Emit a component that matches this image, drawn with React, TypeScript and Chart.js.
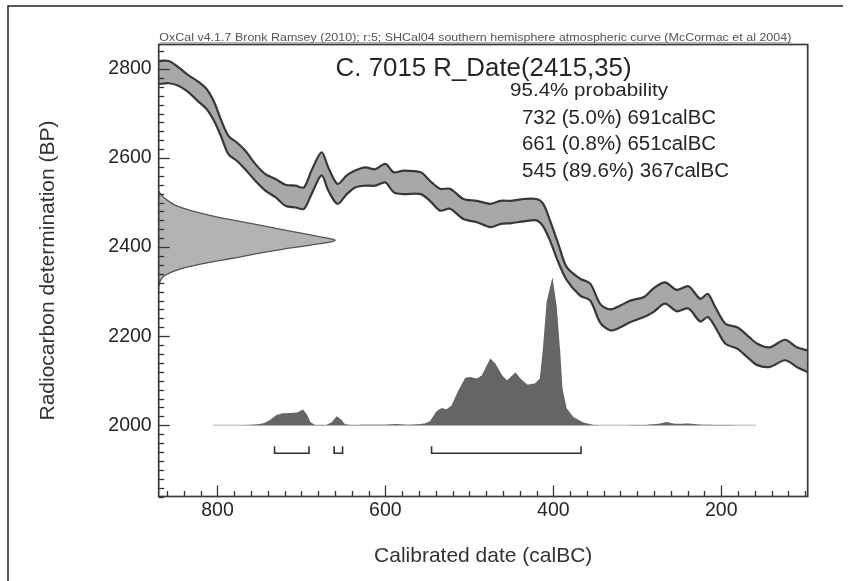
import React, { useEffect, useRef } from "react";
import { Chart, registerables } from "chart.js";

Chart.register(...registerables);

const FONT = '"Liberation Sans", Arial, Helvetica, sans-serif';

// ---- axes ----
const X_MIN = 97;
const X_MAX = 870;
const Y_MIN = 1840;
const Y_MAX = 2855;
const xTickLabels = [800, 600, 400, 200];
const yTickLabels = [2000, 2200, 2400, 2600, 2800];
const MINOR_STEP = 20;

// ---- calibration curve (SHCal04 band, BP) ----
const curveYears = [870, 858, 846, 834, 824, 813, 804, 796, 787, 777, 767, 755, 743, 731, 719, 707, 697, 688, 676, 668, 657, 646, 636, 624, 612, 600, 590, 578, 558, 547, 535, 523, 507, 491, 475, 463, 450, 435, 420, 412, 404, 394, 384, 368, 356, 344, 332, 320, 308, 292, 281, 267, 253, 239, 225, 216, 207, 195, 181, 169, 157, 142, 124, 110, 97];
const curveUpper = [2818, 2818, 2803, 2785, 2773, 2755, 2726, 2687, 2650, 2635, 2617, 2587, 2564, 2553, 2540, 2538, 2534, 2572, 2613, 2579, 2542, 2561, 2572, 2579, 2575, 2587, 2568, 2572, 2568, 2549, 2531, 2531, 2508, 2504, 2497, 2504, 2504, 2508, 2508, 2497, 2460, 2407, 2355, 2329, 2318, 2272, 2260, 2269, 2280, 2288, 2307, 2321, 2304, 2312, 2284, 2295, 2265, 2228, 2220, 2202, 2183, 2175, 2192, 2175, 2168];
const curveLower = [2766, 2768, 2762, 2747, 2729, 2710, 2683, 2650, 2609, 2594, 2575, 2549, 2527, 2512, 2493, 2489, 2486, 2519, 2561, 2527, 2497, 2519, 2534, 2538, 2538, 2545, 2523, 2519, 2519, 2504, 2482, 2486, 2463, 2456, 2445, 2452, 2454, 2458, 2460, 2446, 2415, 2366, 2326, 2291, 2280, 2230, 2213, 2220, 2232, 2243, 2254, 2273, 2256, 2262, 2233, 2243, 2220, 2183, 2172, 2153, 2135, 2131, 2146, 2131, 2119];

// ---- radiocarbon date R_Date(2415,35): relative probability by BP ----
const rDateBP = [2312, 2325, 2335, 2345, 2355, 2365, 2375, 2385, 2395, 2405, 2415, 2425, 2435, 2445, 2455, 2465, 2475, 2485, 2495, 2505, 2515, 2525];
const rDateProb = [0, 0.01, 0.03, 0.08, 0.16, 0.28, 0.42, 0.55, 0.7, 0.87, 1, 0.89, 0.76, 0.63, 0.5, 0.36, 0.25, 0.16, 0.09, 0.05, 0.02, 0];
const R_DATE_SPAN = 210; // calendar years covered by the peak

// ---- calibrated (posterior) distribution: relative probability by year ----
const postYears = [805, 770, 755, 745, 738, 730, 722, 712, 704, 698, 693, 689, 684, 670, 664, 658, 653, 648, 640, 600, 588, 575, 560, 552, 547, 539, 533, 527, 521, 513, 505, 499, 491, 485, 475, 469, 461, 455, 445, 439, 431, 422, 416, 412, 408, 401, 396, 392, 389, 384, 376, 364, 352, 340, 290, 275, 265, 255, 245, 238, 228, 210, 159];
const postProb = [0, 0, 0.005, 0.014, 0.034, 0.068, 0.081, 0.083, 0.088, 0.106, 0.068, 0.02, 0.002, 0.002, 0.02, 0.061, 0.041, 0.007, 0.002, 0.003, 0.008, 0.003, 0.007, 0.014, 0.027, 0.095, 0.117, 0.108, 0.135, 0.236, 0.32, 0.326, 0.316, 0.338, 0.451, 0.417, 0.338, 0.304, 0.356, 0.316, 0.275, 0.282, 0.316, 0.541, 0.831, 1, 0.811, 0.52, 0.25, 0.115, 0.056, 0.018, 0.002, 0, 0.002, 0.01, 0.022, 0.01, 0.01, 0.011, 0.005, 0.002, 0];
const POST_BASE = 2000;
const POST_SCALE = 332;

// ---- 95.4% ranges ----
const rangeFrom = [732, 661, 545];
const rangeTo = [691, 651, 367];
const rangePct = [5.0, 0.8, 89.6];
const BRACKET_TOP = 1953;
const BRACKET_BOT = 1937;

// ---- texts ----
const HEADER = "OxCal v4.1.7 Bronk Ramsey (2010); r:5; SHCal04 southern hemisphere atmospheric curve (McCormac et al 2004)";
const TITLE = "C. 7015 R_Date(2415,35)";
const PROB_LABEL = "95.4% probability";
const X_TITLE = "Calibrated date (calBC)";
const Y_TITLE = "Radiocarbon determination (BP)";

function drawText(
  ctx: CanvasRenderingContext2D,
  text: string,
  x: number,
  y: number,
  size: number,
  opts: { width?: number; sx?: number; color?: string; align?: "left" | "center" } = {}
) {
  ctx.save();
  ctx.font = `${size}px ${FONT}`;
  ctx.fillStyle = opts.color || "#262626";
  ctx.textBaseline = "alphabetic";
  ctx.textAlign = "left";
  const w = ctx.measureText(text).width;
  const sx = opts.width ? opts.width / w : opts.sx || 1;
  let left = x;
  if (opts.align === "center") left = x - (w * sx) / 2;
  ctx.translate(left, y);
  ctx.scale(sx, 1);
  ctx.fillText(text, 0, 0);
  ctx.restore();
}

const decorPlugin = {
  id: "oxcalDecor",
  afterDatasetsDraw(chart: any) {
    const { ctx, chartArea: a, scales } = chart;
    const xs = scales.x;
    const ys = scales.y;
    ctx.save();
    ctx.strokeStyle = "#333";
    ctx.lineWidth = 1.3;
    for (let v = Math.ceil(Y_MIN / MINOR_STEP) * MINOR_STEP; v <= Y_MAX; v += MINOR_STEP) {
      const py = Math.round(ys.getPixelForValue(v)) + 0.5;
      const len = yTickLabels.includes(v) ? 11 : 5.5;
      ctx.beginPath();
      ctx.moveTo(a.left, py);
      ctx.lineTo(a.left + len, py);
      ctx.stroke();
    }
    for (let v = Math.ceil(X_MIN / MINOR_STEP) * MINOR_STEP; v <= X_MAX; v += MINOR_STEP) {
      const px = Math.round(xs.getPixelForValue(v)) + 0.5;
      const len = xTickLabels.includes(v) ? 11 : 5.5;
      ctx.beginPath();
      ctx.moveTo(px, a.bottom);
      ctx.lineTo(px, a.bottom - len);
      ctx.stroke();
    }
    ctx.strokeStyle = "#3a3a3a";
    ctx.lineWidth = 1.7;
    ctx.strokeRect(a.left, a.top, a.right - a.left, a.bottom - a.top);
    ctx.restore();
  },
  afterDraw(chart: any) {
    const { ctx, chartArea: a } = chart;
    ctx.save();
    ctx.strokeStyle = "#222";
    ctx.lineWidth = 1.5;
    ctx.beginPath();
    ctx.moveTo(8, 581);
    ctx.lineTo(8, 6);
    ctx.lineTo(843, 6);
    ctx.stroke();

    drawText(ctx, HEADER, a.left + 0.6, 40.8, 11.5, { width: 632, color: "#555" });
    ctx.strokeStyle = "#777";
    ctx.lineWidth = 0.8;
    ctx.beginPath();
    ctx.moveTo(a.left + 0.6, 42.8);
    ctx.lineTo(a.left + 632.6, 42.8);
    ctx.stroke();

    drawText(ctx, TITLE, 335.6, 75.5, 25.5, { width: 296 });
    drawText(ctx, PROB_LABEL, 510, 96, 19, { width: 158 });
    const widths = [194, 194, 207];
    rangeFrom.forEach((f, i) => {
      const line = `${f} (${rangePct[i].toFixed(1)}%) ${rangeTo[i]}calBC`;
      drawText(ctx, line, 522, 123.5 + i * 26.9, 19.5, { width: widths[i] });
    });

    drawText(ctx, X_TITLE, (a.left + a.right) / 2, 561.5, 21, { align: "center", color: "#333" });
    ctx.save();
    ctx.translate(53.5, (a.top + a.bottom) / 2);
    ctx.rotate(-Math.PI / 2);
    drawText(ctx, Y_TITLE, 0, 0, 21, { align: "center", color: "#333" });
    ctx.restore();
    ctx.restore();
  },
};

export default function App() {
  const ref = useRef<HTMLCanvasElement>(null);

  useEffect(() => {
    const canvas = ref.current;
    if (!canvas) return;

    const upper = curveYears.map((x, i) => ({ x, y: curveUpper[i] }));
    const lower = curveYears.map((x, i) => ({ x, y: curveLower[i] }));
    const gauss = rDateBP.map((bp, i) => ({ x: X_MAX - rDateProb[i] * R_DATE_SPAN, y: bp }));
    const post = postYears.map((x, i) => ({ x, y: POST_BASE + postProb[i] * POST_SCALE }));
    const baseline = [
      { x: postYears[0], y: POST_BASE },
      { x: postYears[postYears.length - 1], y: POST_BASE },
    ];
    const brackets = rangeFrom.map((f, i) => ({
      type: "line",
      data: [
        { x: f, y: BRACKET_TOP },
        { x: f, y: BRACKET_BOT },
        { x: rangeTo[i], y: BRACKET_BOT },
        { x: rangeTo[i], y: BRACKET_TOP },
      ],
      borderColor: "#333",
      borderWidth: 1.6,
      fill: false,
      tension: 0,
    }));

    const tickFont = { family: FONT, size: 19.5 };

    const chart = new Chart(canvas, {
      type: "line",
      data: {
        datasets: [
          ...brackets,
          { data: lower, borderColor: "#383838", borderWidth: 2.2, fill: false, tension: 0.3 },
          { data: upper, borderColor: "#383838", borderWidth: 2.2, fill: "-1", backgroundColor: "#a8a8a8", tension: 0.3 },
          { data: gauss, borderColor: "#555", borderWidth: 1.3, fill: "shape", backgroundColor: "#b3b3b3", tension: 0.3 },
          { data: post, borderColor: "rgba(0,0,0,0)", borderWidth: 1, fill: { value: POST_BASE }, backgroundColor: "#656565", tension: 0.02 },
          { data: baseline, borderColor: "#c8c8c8", borderWidth: 1.5, fill: false },
        ] as any,
      },
      options: {
        animation: false,
        responsive: false,
        maintainAspectRatio: false,
        layout: { padding: { left: 0, top: 44.5, right: 41.3, bottom: 0 } },
        elements: { point: { radius: 0, hoverRadius: 0 } },
        plugins: { legend: { display: false }, tooltip: { enabled: false } },
        scales: {
          x: {
            type: "linear",
            reverse: true,
            min: X_MIN,
            max: X_MAX,
            grid: { display: false, drawTicks: false },
            border: { display: false },
            afterBuildTicks: (s: any) => {
              s.ticks = xTickLabels.map((v) => ({ value: v }));
            },
            afterFit: (s: any) => {
              s.height = 84.5;
            },
            ticks: {
              font: tickFont,
              color: "#262626",
              padding: 2,
              maxRotation: 0,
              autoSkip: false,
              callback: (v: any) => String(v),
            },
          },
          y: {
            type: "linear",
            min: Y_MIN,
            max: Y_MAX,
            grid: { display: false, drawTicks: false },
            border: { display: false },
            afterBuildTicks: (s: any) => {
              s.ticks = yTickLabels.map((v) => ({ value: v }));
            },
            afterFit: (s: any) => {
              s.width = 158.7;
            },
            ticks: {
              font: tickFont,
              color: "#262626",
              padding: 7,
              autoSkip: false,
              callback: (v: any) => String(v),
            },
          },
        },
      } as any,
      plugins: [decorPlugin],
    });

    return () => chart.destroy();
  }, []);

  return (
    <div style={{ position: "absolute", left: 0, top: 0, width: 849, height: 581, background: "#fff" }}>
      <canvas ref={ref} width={849} height={581} style={{ width: 849, height: 581, display: "block" }} />
    </div>
  );
}
